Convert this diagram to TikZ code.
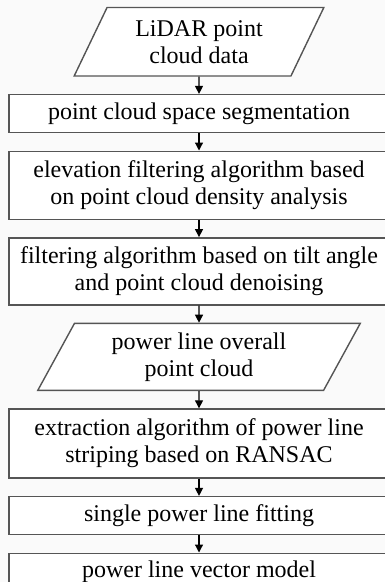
\documentclass[tikz,border=0pt]{standalone}
\usepackage{fontspec}
\setmainfont{Liberation Serif}
\usepackage{tikz}
\usetikzlibrary{
  arrows.meta,
  positioning,
  shapes.geometric
}
\definecolor{edgegray}{RGB}{85,85,85}
\definecolor{papergray}{RGB}{250,250,250}
\tikzset{
  stepbox/.style={draw=edgegray,line width=1.4pt,fill=white,
    align=center,inner sep=2pt,minimum width=380pt,
    font=\fontsize{24}{27}\selectfont},
  databox/.style={draw=edgegray,line width=1.4pt,fill=white,
    trapezium,trapezium left angle=63.5,trapezium right angle=116.5,
    trapezium stretches=true,align=center,inner sep=2pt,
    font=\fontsize{24}{27}\selectfont},
  flow/.style={-{Triangle[length=8pt,width=8pt]},line width=1.2pt,draw=black}
}
\begin{document}
\begin{tikzpicture}[x=1pt,y=1pt,node distance=17.2pt]
  \fill[papergray] (0,0) rectangle (385,-582);
  \useasboundingbox (0,0) rectangle (385,-582);
  \node[databox,minimum width=250pt,minimum height=68.5pt] (lidar) at (199,-41.75)
    {LiDAR point\\cloud data};
  \node[stepbox,minimum height=38pt,below=of lidar] (seg)
    {point cloud space segmentation};
  \node[stepbox,minimum height=68pt,below=of seg] (elev)
    {elevation filtering algorithm based\\on point cloud density analysis};
  \node[stepbox,minimum height=67pt,below=of elev] (tilt)
    {filtering algorithm based on tilt angle\\and point cloud denoising};
  \node[databox,minimum width=323pt,minimum height=67pt,below=of tilt] (whole)
    {power line overall\\point cloud};
  \node[stepbox,minimum height=69pt,below=of whole] (ransac)
    {extraction algorithm of power line\\striping based on RANSAC};
  \node[stepbox,minimum height=38pt,below=of ransac] (fit)
    {single power line fitting};
  \node[stepbox,minimum height=38pt,below=of fit] (model)
    {power line vector model};
  \draw[flow] (lidar)--(seg);
  \draw[flow] (seg)--(elev);
  \draw[flow] (elev)--(tilt);
  \draw[flow] (tilt)--(whole);
  \draw[flow] (whole)--(ransac);
  \draw[flow] (ransac)--(fit);
  \draw[flow] (fit)--(model);
\end{tikzpicture}
\end{document}
